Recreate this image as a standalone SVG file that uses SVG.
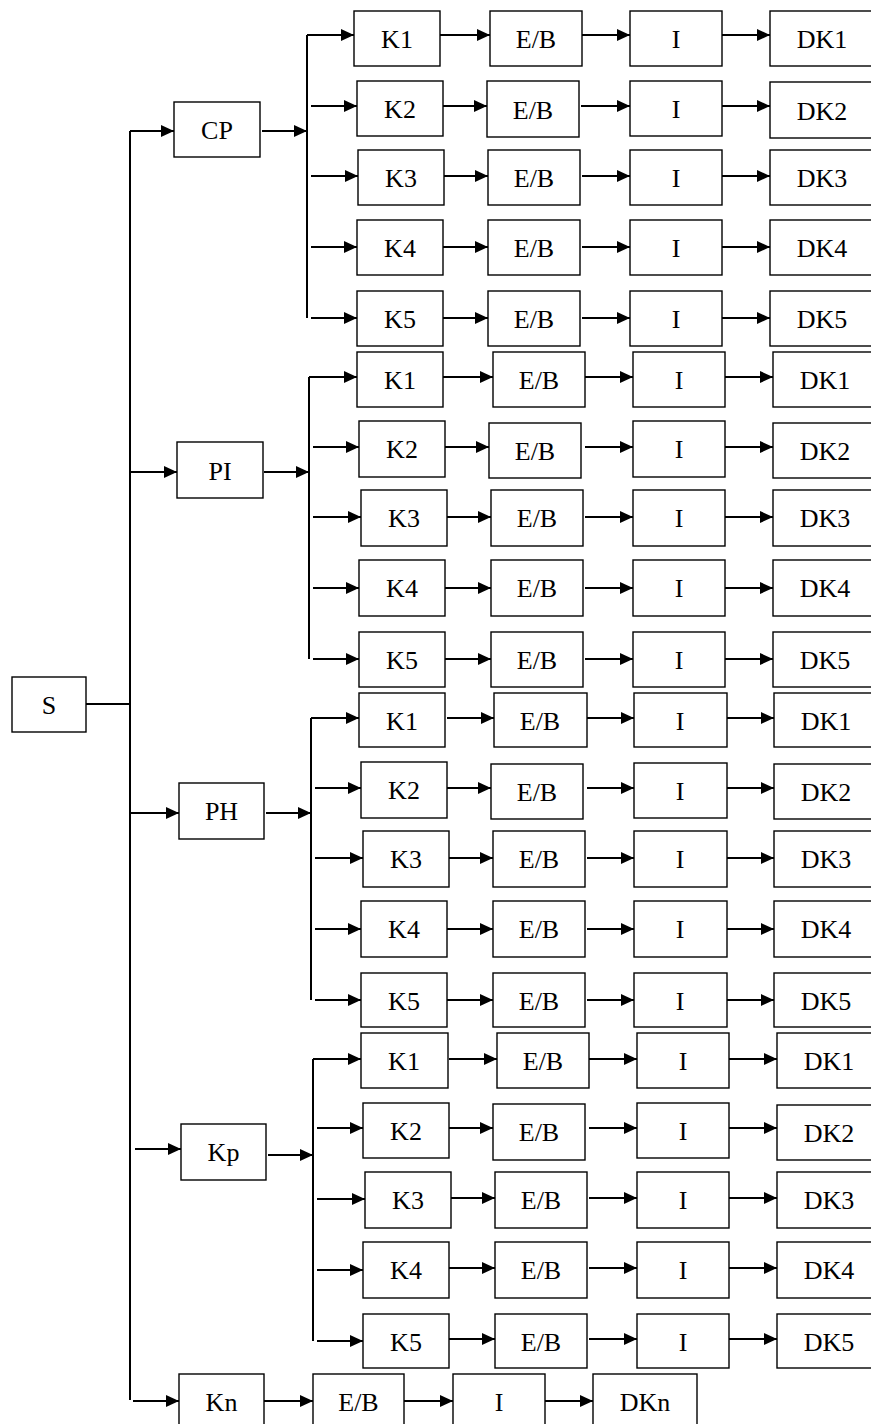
<svg xmlns="http://www.w3.org/2000/svg" width="871" height="1424" viewBox="0 0 871 1424">
<style>
.b{fill:#fff;stroke:#000;stroke-width:1.4}
.t{font-family:"Liberation Serif","Times New Roman",serif;font-size:26px;text-anchor:middle;fill:#000}
.c path{stroke:#000;stroke-width:2;fill:none}
.c path.a{marker-end:url(#ah)}
</style>
<defs>
<marker id="ah" markerUnits="userSpaceOnUse" markerWidth="13" markerHeight="12" refX="13" refY="6" orient="auto">
<path d="M0,0 L13,6 L0,12 z" fill="#000"/>
</marker>
</defs>
<rect x="0" y="0" width="871" height="1424" fill="#fff"/>

<g id="connectors" class="c">
<!-- main spine -->
<path d="M86,704 H130"/>
<path d="M130,131 V1400"/>
<!-- CP -->
<path class="a" d="M130,131 H174"/>
<path class="a" d="M262,131 H307"/>
<path d="M307,35 V318"/>
<path class="a" d="M307,35 H354"/>
<path class="a" d="M311,106 H357"/>
<path class="a" d="M311,176 H358"/>
<path class="a" d="M311,247 H357"/>
<path class="a" d="M311,318 H357"/>
<path class="a" d="M440,35 H490"/><path class="a" d="M582,35 H630"/><path class="a" d="M722,35 H770"/>
<path class="a" d="M443,106 H487"/><path class="a" d="M581,106 H630"/><path class="a" d="M722,106 H770"/>
<path class="a" d="M444,176 H488"/><path class="a" d="M582,176 H630"/><path class="a" d="M722,176 H770"/>
<path class="a" d="M443,247 H488"/><path class="a" d="M582,247 H630"/><path class="a" d="M722,247 H770"/>
<path class="a" d="M443,318 H488"/><path class="a" d="M582,318 H630"/><path class="a" d="M722,318 H770"/>
<!-- PI -->
<path class="a" d="M130,472 H177"/>
<path class="a" d="M264,472 H309"/>
<path d="M309,377 V659"/>
<path class="a" d="M309,377 H357"/>
<path class="a" d="M313,447 H359"/>
<path class="a" d="M313,517 H361"/>
<path class="a" d="M313,588 H359"/>
<path class="a" d="M313,659 H359"/>
<path class="a" d="M443,377 H493"/><path class="a" d="M585,377 H633"/><path class="a" d="M725,377 H773"/>
<path class="a" d="M445,447 H489"/><path class="a" d="M585,447 H633"/><path class="a" d="M725,447 H773"/>
<path class="a" d="M447,517 H491"/><path class="a" d="M585,517 H633"/><path class="a" d="M725,517 H773"/>
<path class="a" d="M445,588 H491"/><path class="a" d="M585,588 H633"/><path class="a" d="M725,588 H773"/>
<path class="a" d="M445,659 H491"/><path class="a" d="M585,659 H633"/><path class="a" d="M725,659 H773"/>
<!-- PH -->
<path class="a" d="M130,813 H179"/>
<path class="a" d="M266,813 H311"/>
<path d="M311,718 V1000"/>
<path class="a" d="M311,718 H359"/>
<path class="a" d="M315,788 H361"/>
<path class="a" d="M315,858 H363"/>
<path class="a" d="M315,929 H361"/>
<path class="a" d="M315,1000 H361"/>
<path class="a" d="M447,718 H494"/><path class="a" d="M587,718 H634"/><path class="a" d="M727,718 H774"/>
<path class="a" d="M447,788 H491"/><path class="a" d="M587,788 H634"/><path class="a" d="M727,788 H774"/>
<path class="a" d="M449,858 H493"/><path class="a" d="M587,858 H634"/><path class="a" d="M727,858 H774"/>
<path class="a" d="M447,929 H493"/><path class="a" d="M587,929 H634"/><path class="a" d="M727,929 H774"/>
<path class="a" d="M447,1000 H493"/><path class="a" d="M587,1000 H634"/><path class="a" d="M727,1000 H774"/>
<!-- Kp -->
<path class="a" d="M135,1149 H181"/>
<path class="a" d="M268,1155 H313"/>
<path d="M313,1059 V1341"/>
<path class="a" d="M313,1059 H361"/>
<path class="a" d="M317,1128 H363"/>
<path class="a" d="M317,1199 H365"/>
<path class="a" d="M317,1270 H363"/>
<path class="a" d="M317,1341 H363"/>
<path class="a" d="M449,1059 H497"/><path class="a" d="M589,1059 H637"/><path class="a" d="M729,1059 H777"/>
<path class="a" d="M449,1128 H493"/><path class="a" d="M589,1128 H637"/><path class="a" d="M729,1128 H777"/>
<path class="a" d="M451,1198 H495"/><path class="a" d="M589,1198 H637"/><path class="a" d="M729,1198 H777"/>
<path class="a" d="M449,1268 H495"/><path class="a" d="M589,1268 H637"/><path class="a" d="M729,1268 H777"/>
<path class="a" d="M449,1339 H495"/><path class="a" d="M589,1339 H637"/><path class="a" d="M729,1339 H777"/>
<!-- Kn -->
<path class="a" d="M133,1401 H179"/>
<path class="a" d="M264,1401 H313"/>
<path class="a" d="M404,1401 H453"/>
<path class="a" d="M545,1401 H593"/>
</g>

<g id="S"><rect class="b" x="12" y="677" width="74" height="55"/><text class="t" x="49" y="714">S</text></g>

<g id="CP"><rect class="b" x="174" y="102" width="86" height="55"/><text class="t" x="217" y="139">CP</text></g>
<g id="cp-k1"><rect class="b" x="354" y="11" width="86" height="55"/><text class="t" x="397" y="48">K1</text></g>
<g id="cp-eb1"><rect class="b" x="490" y="11" width="92" height="55"/><text class="t" x="536" y="48">E/B</text></g>
<g id="cp-i1"><rect class="b" x="630" y="11" width="92" height="55"/><text class="t" x="676" y="48">I</text></g>
<g id="cp-dk1"><rect class="b" x="770" y="11" width="104" height="55"/><text class="t" x="822" y="48">DK1</text></g>
<g id="cp-k2"><rect class="b" x="357" y="81" width="86" height="55"/><text class="t" x="400" y="118">K2</text></g>
<g id="cp-eb2"><rect class="b" x="487" y="81" width="92" height="56"/><text class="t" x="533" y="119">E/B</text></g>
<g id="cp-i2"><rect class="b" x="630" y="81" width="92" height="55"/><text class="t" x="676" y="118">I</text></g>
<g id="cp-dk2"><rect class="b" x="770" y="82" width="104" height="56"/><text class="t" x="822" y="120">DK2</text></g>
<g id="cp-k3"><rect class="b" x="358" y="150" width="86" height="55"/><text class="t" x="401" y="187">K3</text></g>
<g id="cp-eb3"><rect class="b" x="488" y="150" width="92" height="55"/><text class="t" x="534" y="187">E/B</text></g>
<g id="cp-i3"><rect class="b" x="630" y="150" width="92" height="55"/><text class="t" x="676" y="187">I</text></g>
<g id="cp-dk3"><rect class="b" x="770" y="150" width="104" height="55"/><text class="t" x="822" y="187">DK3</text></g>
<g id="cp-k4"><rect class="b" x="357" y="220" width="86" height="55"/><text class="t" x="400" y="257">K4</text></g>
<g id="cp-eb4"><rect class="b" x="488" y="220" width="92" height="55"/><text class="t" x="534" y="257">E/B</text></g>
<g id="cp-i4"><rect class="b" x="630" y="220" width="92" height="55"/><text class="t" x="676" y="257">I</text></g>
<g id="cp-dk4"><rect class="b" x="770" y="220" width="104" height="55"/><text class="t" x="822" y="257">DK4</text></g>
<g id="cp-k5"><rect class="b" x="357" y="291" width="86" height="55"/><text class="t" x="400" y="328">K5</text></g>
<g id="cp-eb5"><rect class="b" x="488" y="291" width="92" height="55"/><text class="t" x="534" y="328">E/B</text></g>
<g id="cp-i5"><rect class="b" x="630" y="291" width="92" height="55"/><text class="t" x="676" y="328">I</text></g>
<g id="cp-dk5"><rect class="b" x="770" y="291" width="104" height="55"/><text class="t" x="822" y="328">DK5</text></g>

<g id="PI"><rect class="b" x="177" y="442" width="86" height="56"/><text class="t" x="220" y="480">PI</text></g>
<g id="pi-k1"><rect class="b" x="357" y="352" width="86" height="55"/><text class="t" x="400" y="389">K1</text></g>
<g id="pi-eb1"><rect class="b" x="493" y="352" width="92" height="55"/><text class="t" x="539" y="389">E/B</text></g>
<g id="pi-i1"><rect class="b" x="633" y="352" width="92" height="55"/><text class="t" x="679" y="389">I</text></g>
<g id="pi-dk1"><rect class="b" x="773" y="352" width="104" height="55"/><text class="t" x="825" y="389">DK1</text></g>
<g id="pi-k2"><rect class="b" x="359" y="421" width="86" height="56"/><text class="t" x="402" y="458">K2</text></g>
<g id="pi-eb2"><rect class="b" x="489" y="423" width="92" height="55"/><text class="t" x="535" y="460">E/B</text></g>
<g id="pi-i2"><rect class="b" x="633" y="421" width="92" height="56"/><text class="t" x="679" y="458">I</text></g>
<g id="pi-dk2"><rect class="b" x="773" y="423" width="104" height="55"/><text class="t" x="825" y="460">DK2</text></g>
<g id="pi-k3"><rect class="b" x="361" y="490" width="86" height="56"/><text class="t" x="404" y="527">K3</text></g>
<g id="pi-eb3"><rect class="b" x="491" y="490" width="92" height="56"/><text class="t" x="537" y="527">E/B</text></g>
<g id="pi-i3"><rect class="b" x="633" y="490" width="92" height="56"/><text class="t" x="679" y="527">I</text></g>
<g id="pi-dk3"><rect class="b" x="773" y="490" width="104" height="56"/><text class="t" x="825" y="527">DK3</text></g>
<g id="pi-k4"><rect class="b" x="359" y="560" width="86" height="56"/><text class="t" x="402" y="597">K4</text></g>
<g id="pi-eb4"><rect class="b" x="491" y="560" width="92" height="56"/><text class="t" x="537" y="597">E/B</text></g>
<g id="pi-i4"><rect class="b" x="633" y="560" width="92" height="56"/><text class="t" x="679" y="597">I</text></g>
<g id="pi-dk4"><rect class="b" x="773" y="560" width="104" height="56"/><text class="t" x="825" y="597">DK4</text></g>
<g id="pi-k5"><rect class="b" x="359" y="632" width="86" height="55"/><text class="t" x="402" y="669">K5</text></g>
<g id="pi-eb5"><rect class="b" x="491" y="632" width="92" height="55"/><text class="t" x="537" y="669">E/B</text></g>
<g id="pi-i5"><rect class="b" x="633" y="632" width="92" height="55"/><text class="t" x="679" y="669">I</text></g>
<g id="pi-dk5"><rect class="b" x="773" y="632" width="104" height="55"/><text class="t" x="825" y="669">DK5</text></g>

<g id="PH"><rect class="b" x="179" y="783" width="85" height="56"/><text class="t" x="221.5" y="820">PH</text></g>
<g id="ph-k1"><rect class="b" x="359" y="693" width="86" height="54"/><text class="t" x="402" y="730">K1</text></g>
<g id="ph-eb1"><rect class="b" x="494" y="693" width="93" height="54"/><text class="t" x="540" y="730">E/B</text></g>
<g id="ph-i1"><rect class="b" x="634" y="693" width="93" height="54"/><text class="t" x="680" y="730">I</text></g>
<g id="ph-dk1"><rect class="b" x="774" y="693" width="104" height="54"/><text class="t" x="826" y="730">DK1</text></g>
<g id="ph-k2"><rect class="b" x="361" y="762" width="86" height="56"/><text class="t" x="404" y="799">K2</text></g>
<g id="ph-eb2"><rect class="b" x="491" y="764" width="92" height="55"/><text class="t" x="537" y="801">E/B</text></g>
<g id="ph-i2"><rect class="b" x="634" y="763" width="93" height="55"/><text class="t" x="680" y="800">I</text></g>
<g id="ph-dk2"><rect class="b" x="774" y="764" width="104" height="55"/><text class="t" x="826" y="801">DK2</text></g>
<g id="ph-k3"><rect class="b" x="363" y="831" width="86" height="56"/><text class="t" x="406" y="868">K3</text></g>
<g id="ph-eb3"><rect class="b" x="493" y="831" width="92" height="56"/><text class="t" x="539" y="868">E/B</text></g>
<g id="ph-i3"><rect class="b" x="634" y="831" width="93" height="56"/><text class="t" x="680" y="868">I</text></g>
<g id="ph-dk3"><rect class="b" x="774" y="831" width="104" height="56"/><text class="t" x="826" y="868">DK3</text></g>
<g id="ph-k4"><rect class="b" x="361" y="901" width="86" height="56"/><text class="t" x="404" y="938">K4</text></g>
<g id="ph-eb4"><rect class="b" x="493" y="901" width="92" height="56"/><text class="t" x="539" y="938">E/B</text></g>
<g id="ph-i4"><rect class="b" x="634" y="901" width="93" height="56"/><text class="t" x="680" y="938">I</text></g>
<g id="ph-dk4"><rect class="b" x="774" y="901" width="104" height="56"/><text class="t" x="826" y="938">DK4</text></g>
<g id="ph-k5"><rect class="b" x="361" y="973" width="86" height="54"/><text class="t" x="404" y="1010">K5</text></g>
<g id="ph-eb5"><rect class="b" x="493" y="973" width="92" height="54"/><text class="t" x="539" y="1010">E/B</text></g>
<g id="ph-i5"><rect class="b" x="634" y="973" width="93" height="54"/><text class="t" x="680" y="1010">I</text></g>
<g id="ph-dk5"><rect class="b" x="774" y="973" width="104" height="54"/><text class="t" x="826" y="1010">DK5</text></g>

<g id="Kp"><rect class="b" x="181" y="1124" width="85" height="56"/><text class="t" x="223.5" y="1161">Kp</text></g>
<g id="kp-k1"><rect class="b" x="361" y="1033" width="87" height="55"/><text class="t" x="404" y="1070">K1</text></g>
<g id="kp-eb1"><rect class="b" x="497" y="1033" width="92" height="55"/><text class="t" x="543" y="1070">E/B</text></g>
<g id="kp-i1"><rect class="b" x="637" y="1033" width="92" height="55"/><text class="t" x="683" y="1070">I</text></g>
<g id="kp-dk1"><rect class="b" x="777" y="1033" width="104" height="55"/><text class="t" x="829" y="1070">DK1</text></g>
<g id="kp-k2"><rect class="b" x="363" y="1103" width="86" height="55"/><text class="t" x="406" y="1140">K2</text></g>
<g id="kp-eb2"><rect class="b" x="493" y="1104" width="92" height="56"/><text class="t" x="539" y="1141">E/B</text></g>
<g id="kp-i2"><rect class="b" x="637" y="1103" width="92" height="55"/><text class="t" x="683" y="1140">I</text></g>
<g id="kp-dk2"><rect class="b" x="777" y="1105" width="104" height="55"/><text class="t" x="829" y="1142">DK2</text></g>
<g id="kp-k3"><rect class="b" x="365" y="1172" width="86" height="56"/><text class="t" x="408" y="1209">K3</text></g>
<g id="kp-eb3"><rect class="b" x="495" y="1172" width="92" height="56"/><text class="t" x="541" y="1209">E/B</text></g>
<g id="kp-i3"><rect class="b" x="637" y="1172" width="92" height="56"/><text class="t" x="683" y="1209">I</text></g>
<g id="kp-dk3"><rect class="b" x="777" y="1172" width="104" height="56"/><text class="t" x="829" y="1209">DK3</text></g>
<g id="kp-k4"><rect class="b" x="363" y="1242" width="86" height="56"/><text class="t" x="406" y="1279">K4</text></g>
<g id="kp-eb4"><rect class="b" x="495" y="1242" width="92" height="56"/><text class="t" x="541" y="1279">E/B</text></g>
<g id="kp-i4"><rect class="b" x="637" y="1242" width="92" height="56"/><text class="t" x="683" y="1279">I</text></g>
<g id="kp-dk4"><rect class="b" x="777" y="1242" width="104" height="56"/><text class="t" x="829" y="1279">DK4</text></g>
<g id="kp-k5"><rect class="b" x="363" y="1314" width="86" height="54"/><text class="t" x="406" y="1351">K5</text></g>
<g id="kp-eb5"><rect class="b" x="495" y="1314" width="92" height="54"/><text class="t" x="541" y="1351">E/B</text></g>
<g id="kp-i5"><rect class="b" x="637" y="1314" width="92" height="54"/><text class="t" x="683" y="1351">I</text></g>
<g id="kp-dk5"><rect class="b" x="777" y="1314" width="104" height="54"/><text class="t" x="829" y="1351">DK5</text></g>

<g id="Kn"><rect class="b" x="179" y="1374" width="85" height="56"/><text class="t" x="221.5" y="1411">Kn</text></g>
<g id="kn-eb"><rect class="b" x="313" y="1374" width="91" height="56"/><text class="t" x="358.5" y="1411">E/B</text></g>
<g id="kn-i"><rect class="b" x="453" y="1374" width="92" height="56"/><text class="t" x="499" y="1411">I</text></g>
<g id="kn-dk"><rect class="b" x="593" y="1374" width="104" height="56"/><text class="t" x="645" y="1411">DKn</text></g>
</svg>
